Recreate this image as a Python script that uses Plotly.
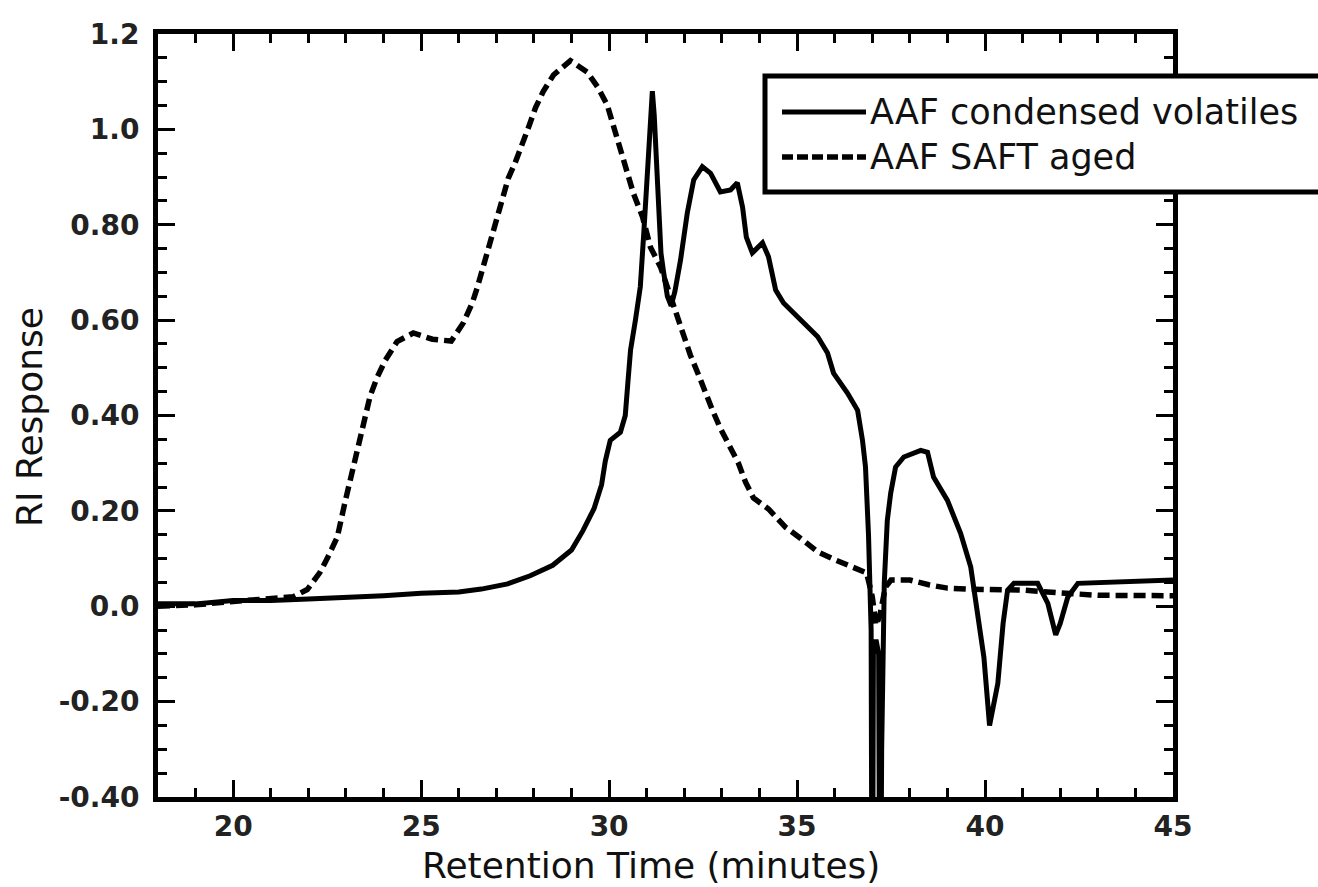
import plotly.graph_objects as go

# ---- data ----
t_condensed = [18.0, 19.0, 20.0, 21.0, 22.0, 23.0, 24.0, 25.0, 26.0, 26.6, 27.3, 27.9, 28.5, 29.0,
               29.3, 29.6, 29.8, 29.9, 30.03, 30.3, 30.43, 30.5, 30.57, 30.7, 30.83, 30.92, 31.0,
               31.08, 31.15, 31.2, 31.26, 31.32, 31.38, 31.45, 31.55, 31.65, 31.75, 31.9, 32.08,
               32.25, 32.48, 32.7, 32.96, 33.23, 33.41, 33.55, 33.65, 33.81, 34.08, 34.24, 34.43,
               34.64, 35.09, 35.55, 35.81, 35.97, 36.34, 36.61, 36.74, 36.82, 36.9, 36.95, 36.97,
               37.0, 37.03, 37.1, 37.17, 37.21, 37.25, 37.32, 37.4, 37.49, 37.62, 37.84, 38.29,
               38.47, 38.63, 39.0, 39.35, 39.62, 39.8, 39.97, 40.12, 40.34, 40.48, 40.6, 40.77,
               41.4, 41.67, 41.88, 42.0, 42.2, 42.47, 45.0]
ri_condensed = [0.005, 0.005, 0.012, 0.012, 0.015, 0.018, 0.022, 0.027, 0.03, 0.036, 0.047, 0.064,
                0.086, 0.118, 0.158, 0.205, 0.255, 0.305, 0.348, 0.365, 0.40, 0.47, 0.537, 0.60,
                0.67, 0.78, 0.90, 1.02, 1.08, 1.03, 0.92, 0.80, 0.74, 0.70, 0.65, 0.63, 0.66,
                0.726, 0.825, 0.894, 0.922, 0.908, 0.869, 0.873, 0.888, 0.837, 0.774, 0.741, 0.762,
                0.733, 0.663, 0.636, 0.60, 0.565, 0.531, 0.489, 0.447, 0.411, 0.348, 0.292, 0.15,
                0.05, -0.05, -0.9, -0.1, -0.07, -0.1, -0.9, -0.3, 0.05, 0.18, 0.237, 0.292, 0.313,
                0.327, 0.323, 0.271, 0.222, 0.153, 0.082, -0.008, -0.107, -0.25, -0.162, -0.036,
                0.034, 0.048, 0.048, 0.006, -0.06, -0.036, 0.019, 0.048, 0.055]

t_saft = [18.0, 19.0, 20.0, 21.0, 21.6, 21.97, 22.3, 22.5, 22.77, 22.98, 23.15, 23.3, 23.45, 23.64,
          23.83, 24.04, 24.36, 24.79, 25.3, 25.8, 26.12, 26.36, 26.5, 26.63, 26.76, 26.89, 27.05,
          27.18, 27.32, 27.5, 27.69, 27.85, 28.04, 28.25, 28.52, 28.97, 29.42, 29.71, 29.95,
          30.09, 30.25, 30.41, 30.65, 30.89, 31.1, 31.37, 31.63, 31.84, 32.16, 32.38, 32.56,
          32.75, 32.96, 33.23, 33.44, 33.63, 33.84, 34.24, 34.69, 35.15, 35.57, 36.02, 36.5,
          36.85, 37.0, 37.1, 37.2, 37.35, 37.5, 38.0, 38.5, 39.0, 39.5, 40.0, 41.0, 42.0, 43.0, 45.0]
ri_saft = [0.0, 0.003, 0.01, 0.015, 0.02, 0.035, 0.07, 0.10, 0.145, 0.22, 0.28, 0.33, 0.385, 0.44,
           0.48, 0.515, 0.555, 0.573, 0.56, 0.556, 0.594, 0.636, 0.67, 0.705, 0.747, 0.778, 0.816,
           0.856, 0.898, 0.93, 0.967, 1.003, 1.045, 1.08, 1.114, 1.144, 1.12, 1.087, 1.051, 1.013,
           0.974, 0.936, 0.865, 0.816, 0.753, 0.711, 0.65, 0.60, 0.527, 0.485, 0.447, 0.411, 0.373,
           0.334, 0.30, 0.26, 0.227, 0.204, 0.166, 0.139, 0.113, 0.097, 0.08, 0.07, 0.02, -0.04,
           -0.02, 0.04, 0.055, 0.055, 0.045, 0.038, 0.036, 0.035, 0.034, 0.028, 0.023, 0.022]

x_tick_vals = [20, 25, 30, 35, 40, 45]
x_tick_text = ["20", "25", "30", "35", "40", "45"]
y_tick_vals = [-0.4, -0.2, 0.0, 0.2, 0.4, 0.6, 0.8, 1.0, 1.2]
y_tick_text = ["-0.40", "-0.20", "0.0", "0.20", "0.40", "0.60", "0.80", "1.0", "1.2"]

series_names = ["AAF condensed volatiles", "AAF SAFT aged"]
x_title = "Retention Time (minutes)"
y_title = "RI Response"

FONT = "DejaVu Sans"
INK = "#111111"

fig = go.Figure()
fig.add_trace(go.Scatter(x=t_condensed, y=ri_condensed, mode="lines", name=series_names[0],
                         line=dict(color="black", width=5), showlegend=False))
fig.add_trace(go.Scatter(x=t_saft, y=ri_saft, mode="lines", name=series_names[1],
                         line=dict(color="black", width=5.5, dash="12px,6px"), showlegend=False))

axis_common = dict(showline=True, linewidth=5, linecolor="black", mirror="ticks",
                   ticks="inside", tickwidth=3, tickcolor="black", showgrid=False,
                   zeroline=False,
                   tickfont=dict(family=FONT, size=28, color="#222222", weight="bold"))

fig.update_xaxes(range=[18, 45], tickvals=x_tick_vals, ticktext=x_tick_text, ticklen=17,
                 minor=dict(dtick=1, tick0=0, ticklen=9, tickwidth=3, ticks="inside",
                            tickcolor="black", showgrid=False),
                 **axis_common)
fig.update_yaxes(range=[-0.4, 1.2], tickvals=y_tick_vals, ticktext=y_tick_text, ticklen=17,
                 ticklabelstandoff=8,
                 minor=dict(dtick=0.05, tick0=0, ticklen=9, tickwidth=3, ticks="inside",
                            tickcolor="black", showgrid=False),
                 **axis_common)

L, R, T, B = 158, 145, 34, 90
W, H = 1318, 887
pw, ph = W - L - R, H - T - B


def px(x):
    return (x - L) / pw


def py(y):
    return (H - B - y) / ph


shapes = [
    dict(type="rect", xref="paper", yref="paper", x0=px(765), x1=px(1340), y0=py(192), y1=py(76),
         line=dict(color="black", width=5), fillcolor="white", layer="above"),
    dict(type="line", xref="paper", yref="paper", x0=px(782), x1=px(866), y0=py(112), y1=py(112),
         line=dict(color="black", width=5)),
    dict(type="line", xref="paper", yref="paper", x0=px(782), x1=px(866), y0=py(157), y1=py(157),
         line=dict(color="black", width=5.5, dash="11px,4px")),
]

annotations = [
    dict(xref="paper", yref="paper", x=px(868), y=py(112), text=series_names[0], showarrow=False,
         xanchor="left", yanchor="middle", font=dict(family=FONT, size=35, color=INK)),
    dict(xref="paper", yref="paper", x=px(868), y=py(157), text=series_names[1], showarrow=False,
         xanchor="left", yanchor="middle", font=dict(family=FONT, size=35, color=INK)),
    dict(xref="paper", yref="paper", x=px(651), y=py(865), text=x_title, showarrow=False,
         xanchor="center", yanchor="middle", font=dict(family=FONT, size=36, color=INK)),
    dict(xref="paper", yref="paper", x=px(29), y=py(417), text=y_title, showarrow=False,
         textangle=-90, xanchor="center", yanchor="middle",
         font=dict(family=FONT, size=36, color=INK)),
]

fig.update_layout(width=W, height=H, autosize=False,
                  margin=dict(l=L, r=R, t=T, b=B, pad=0),
                  plot_bgcolor="white", paper_bgcolor="white",
                  shapes=shapes, annotations=annotations, showlegend=False)

fig.write_html("out.html")
